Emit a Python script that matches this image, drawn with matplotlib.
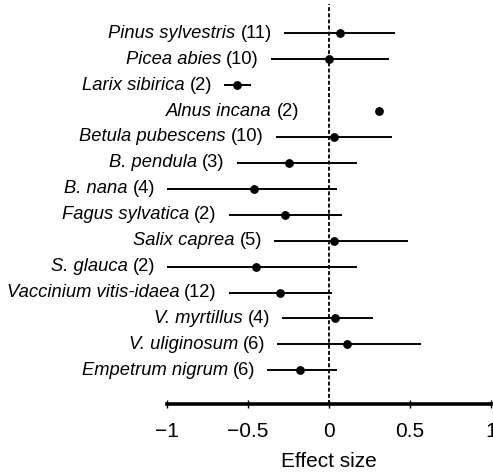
import numpy as np
import matplotlib
matplotlib.use("Agg")
from matplotlib import pyplot as plt

plt.rcParams['font.family'] = ['Liberation Sans', 'DejaVu Sans']

genus = ['Pinus sylvestris', 'Picea abies', 'Larix sibirica', 'Alnus incana',
         'Betula pubescens', 'B. pendula', 'B. nana', 'Fagus sylvatica',
         'Salix caprea', 'S. glauca', 'Vaccinium vitis-idaea', 'V. myrtillus',
         'V. uliginosum', 'Empetrum nigrum']
n_studies = [11, 10, 2, 2, 10, 3, 4, 2, 5, 2, 12, 4, 6, 6]
effect = [0.07, 0.0, -0.57, 0.31, 0.03, -0.25, -0.46, -0.27, 0.03, -0.45, -0.30, 0.04, 0.11, -0.18]
ci_low = [-0.28, -0.36, -0.65, np.nan, -0.33, -0.57, -1.0, -0.62, -0.34, -1.0, -0.62, -0.29, -0.32, -0.38]
ci_high = [0.41, 0.37, -0.48, np.nan, 0.39, 0.17, 0.05, 0.08, 0.49, 0.17, 0.02, 0.27, 0.57, 0.05]

fig = plt.figure(figsize=(4.93, 4.73), dpi=100)
ax = fig.add_axes([167/493, 1-404/473, 324/493, 400/473])

y = np.arange(len(genus))
lo = np.asarray(ci_low)
hi = np.asarray(ci_high)
eff = np.asarray(effect)

ax.axvline(0, color='black', lw=1.3, ls=(0, (2.2, 1.2)), zorder=1)
ax.hlines(y, lo, hi, color='black', lw=1.4, zorder=2)
ax.plot(eff, y, 'o', color='black', ms=5.3, zorder=3)

# label sits just left of the interval (or of the point when no interval)
lab_x = np.where(np.isnan(lo), eff - 0.42, lo)
fs = 13.2
for i in range(len(genus)):
    n_txt = ax.annotate('({})'.format(n_studies[i]), xy=(lab_x[i], y[i]),
                        xytext=(-8.5, 0), textcoords='offset points',
                        ha='right', va='center', fontsize=fs, annotation_clip=False)
    ax.annotate(genus[i], xy=(0, 0.5), xycoords=n_txt, xytext=(-3.5, 0),
                textcoords='offset points', ha='right', va='center',
                fontsize=fs, style='italic', annotation_clip=False)

ax.set_xlim(-1, 1)
ax.set_ylim(14.3, -1.13)
ax.set_xticks([-1, -0.5, 0, 0.5, 1])
ax.set_xticklabels(['\u22121', '\u22120.5', '0', '0.5', '1'])
ax.set_yticks([])
for s in ['left', 'right', 'top']:
    ax.spines[s].set_visible(False)
ax.spines['bottom'].set_linewidth(2.6)
ax.tick_params(axis='x', direction='inout', length=6, width=1, labelsize=15, pad=10)
ax.set_xlabel('Effect size', fontsize=15, labelpad=8)

fig.savefig('out.png', dpi=100)
